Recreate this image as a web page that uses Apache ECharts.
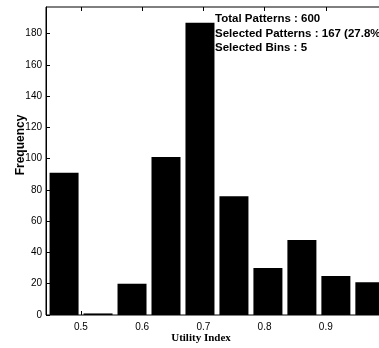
<!DOCTYPE html>
<html><head><meta charset="utf-8">
<script src="https://cdn.jsdelivr.net/npm/echarts@6/dist/echarts.min.js"></script>
<style>html,body{margin:0;padding:0;background:#fff}#c{width:379px;height:348px}</style>
</head><body><div id="c"></div>
<script>
// Data
const binCenters = [0.4725, 0.528, 0.5835, 0.639, 0.6945, 0.75, 0.8055, 0.861, 0.9165, 0.972];
const frequencies = [91, 1, 20, 101, 187, 76, 30, 48, 25, 21];
const xTicks = [0.5, 0.6, 0.7, 0.8, 0.9];
const annotationLines = ['Total Patterns : 600', 'Selected Patterns : 167 (27.8%)', 'Selected Bins : 5'];
const xTitle = 'Utility Index';
const yTitle = 'Frequency';

const chart = echarts.init(document.getElementById('c'), null, {renderer: 'canvas'});
const sans = 'Liberation Sans, Arial, sans-serif';
const axisBase = {
  min: 0.443, max: 1.0,
  axisLine: {show: false},
  splitLine: {show: false}
};
chart.setOption({
  animation: false,
  backgroundColor: '#fff',
  grid: {left: 46, top: 7, width: 341, height: 308, show: true, borderColor: '#000', borderWidth: 1,
         backgroundColor: 'transparent', containLabel: false, outerBoundsMode: 'none'},
  xAxis: [
    Object.assign({}, axisBase, {
      type: 'value', position: 'bottom',
      axisTick: {show: true, inside: true, length: 4, lineStyle: {color: '#000'}, customValues: xTicks},
      axisLabel: {color: '#000', fontFamily: sans, fontSize: 10, margin: 7, customValues: xTicks, formatter: v => v.toFixed(1)}
    }),
    Object.assign({}, axisBase, {
      type: 'value', position: 'top',
      axisTick: {show: true, inside: true, length: 4, lineStyle: {color: '#000'}, customValues: xTicks},
      axisLabel: {show: false}
    })
  ],
  yAxis: {
    type: 'value', min: 0, max: 197, interval: 20,
    axisLine: {show: true, lineStyle: {color: '#000'}},
    axisTick: {show: true, inside: true, length: 4, lineStyle: {color: '#000'}},
    axisLabel: {color: '#000', fontFamily: sans, fontSize: 10, margin: 4, showMaxLabel: false},
    splitLine: {show: false}
  },
  series: [{
    type: 'bar',
    xAxisIndex: 0,
    barWidth: 29,
    itemStyle: {color: '#000'},
    data: binCenters.map((c, i) => [c, frequencies[i]])
  }],
  graphic: [
    {type: 'text', x: 21, y: 145, rotation: Math.PI / 2,
     style: {text: yTitle, font: 'bold 12px ' + sans, fill: '#000', align: 'center', verticalAlign: 'middle'}},
    {type: 'text', x: 201, y: 338,
     style: {text: xTitle, font: 'bold 11px Liberation Serif, Times New Roman, serif', fill: '#000', align: 'center', verticalAlign: 'middle'}}
  ].concat(annotationLines.map((t, i) => ({
    type: 'text', x: 215, y: 19 + i * 14.5,
    style: {text: t, font: 'bold 11.5px ' + sans, fill: '#000', align: 'left', verticalAlign: 'middle'}
  })))
});
</script></body></html>
